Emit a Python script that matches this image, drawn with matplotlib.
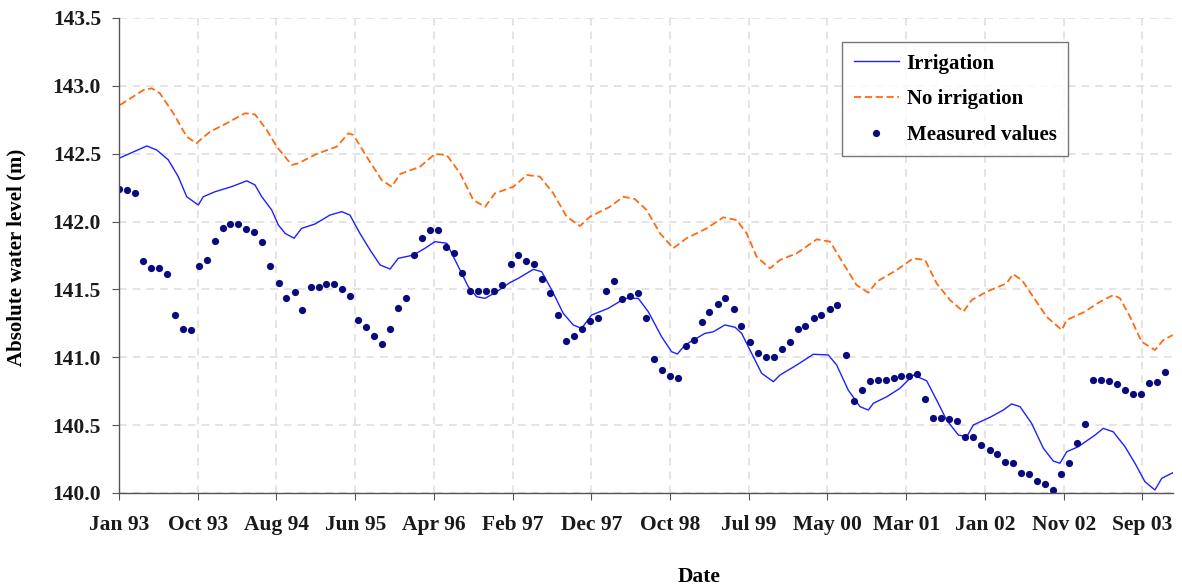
import numpy as np
import pandas as pd
import matplotlib
matplotlib.use("Agg")
import matplotlib.pyplot as plt

# x values are days since 1 Jan 1993
START = pd.Timestamp("1993-01-01")

# simulated level, with irrigation
irr_days = [4, 106, 144, 188, 226, 258, 302, 321, 366, 429, 487, 518, 544, 582, 607, 633, 667, 696,
            747, 804, 849, 880, 918, 957, 995, 1033, 1064, 1122, 1166, 1204, 1249, 1287, 1331, 1363,
            1395, 1439, 1490, 1522, 1579, 1611, 1649, 1693, 1731, 1763, 1801, 1865, 1928, 1979, 2017,
            2068, 2106, 2128, 2157, 2233, 2265, 2309, 2348, 2373, 2411, 2449, 2494, 2519, 2583, 2646,
            2703, 2735, 2779, 2824, 2856, 2875, 2926, 2976, 3027, 3078, 3116, 3154, 3199, 3231, 3256,
            3319, 3370, 3402, 3434, 3478, 3523, 3561, 3586, 3612, 3656, 3720, 3751, 3789, 3834, 3872,
            3910, 3948, 3974, 4016]
irr_level = [142.47, 142.557, 142.527, 142.454, 142.33, 142.183, 142.122, 142.183, 142.22, 142.257,
             142.30, 142.27, 142.183, 142.085, 141.975, 141.913, 141.877, 141.95, 141.982, 142.048,
             142.073, 142.048, 141.913, 141.79, 141.68, 141.65, 141.729, 141.753, 141.803, 141.852,
             141.84, 141.692, 141.52, 141.446, 141.434, 141.483, 141.55, 141.582, 141.648, 141.63,
             141.496, 141.324, 141.238, 141.213, 141.311, 141.361, 141.434, 141.434, 141.336, 141.151,
             141.041, 141.024, 141.09, 141.176, 141.188, 141.238, 141.221, 141.176, 141.029, 140.882,
             140.82, 140.869, 140.943, 141.022, 141.017, 140.943, 140.759, 140.636, 140.611, 140.661,
             140.709, 140.771, 140.869, 140.827, 140.685, 140.538, 140.427, 140.415, 140.501, 140.557,
             140.611, 140.656, 140.636, 140.513, 140.329, 140.235, 140.219, 140.304, 140.341, 140.427,
             140.476, 140.451, 140.341, 140.219, 140.083, 140.022, 140.108, 140.149]

# simulated level, no irrigation
noirr_days = [4, 93, 125, 156, 207, 258, 296, 309, 347, 410, 480, 518, 563, 601, 658, 683, 753, 830,
              874, 893, 944, 1001, 1039, 1071, 1147, 1204, 1249, 1300, 1350, 1395, 1433, 1503, 1554,
              1604, 1655, 1706, 1757, 1795, 1871, 1922, 1966, 2011, 2062, 2112, 2163, 2240, 2303, 2354,
              2392, 2430, 2481, 2519, 2583, 2659, 2710, 2760, 2811, 2856, 2888, 2964, 3027, 3072, 3116,
              3167, 3218, 3250, 3307, 3383, 3407, 3441, 3484, 3535, 3593, 3612, 3675, 3739, 3790, 3815,
              3853, 3897, 3948, 3980, 4016]
noirr_level = [142.859, 142.969, 142.982, 142.945, 142.798, 142.625, 142.577, 142.601, 142.662, 142.724,
               142.798, 142.79, 142.675, 142.552, 142.417, 142.429, 142.498, 142.552, 142.65, 142.638,
               142.478, 142.306, 142.257, 142.35, 142.404, 142.498, 142.49, 142.356, 142.159, 142.109,
               142.208, 142.257, 142.343, 142.331, 142.208, 142.036, 141.967, 142.036, 142.109, 142.183,
               142.166, 142.085, 141.913, 141.803, 141.877, 141.95, 142.031, 142.011, 141.913, 141.741,
               141.655, 141.717, 141.766, 141.869, 141.852, 141.692, 141.532, 141.476, 141.557, 141.643,
               141.729, 141.717, 141.545, 141.422, 141.336, 141.422, 141.483, 141.545, 141.613, 141.569,
               141.446, 141.299, 141.201, 141.275, 141.33, 141.409, 141.459, 141.434, 141.299, 141.115,
               141.053, 141.127, 141.164]

# measured values, monthly Jan 1993 - Dec 2003
measured = [
    142.24, 142.23, 142.21, 141.71, 141.66, 141.66, 141.61, 141.31, 141.21, 141.20, 141.67, 141.72,
    141.86, 141.95, 141.98, 141.98, 141.945, 141.92, 141.85, 141.67, 141.545, 141.44, 141.48, 141.35,
    141.52, 141.52, 141.54, 141.54, 141.50, 141.45, 141.275, 141.22, 141.16, 141.10, 141.21, 141.36,
    141.44, 141.75, 141.88, 141.94, 141.94, 141.81, 141.77, 141.62, 141.49, 141.49, 141.49, 141.49,
    141.53, 141.685, 141.75, 141.71, 141.685, 141.58, 141.47, 141.31, 141.12, 141.16, 141.21, 141.27,
    141.29, 141.49, 141.56, 141.43, 141.45, 141.47, 141.29, 140.985, 140.906, 140.86, 140.85, 141.08,
    141.13, 141.26, 141.33, 141.39, 141.44, 141.355, 141.23, 141.11, 141.03, 141.005, 141.005, 141.06,
    141.11, 141.21, 141.23, 141.29, 141.31, 141.355, 141.385, 141.02, 140.68, 140.76, 140.825, 140.83,
    140.83, 140.85, 140.86, 140.86, 140.875, 140.69, 140.55, 140.55, 140.545, 140.53, 140.415, 140.41,
    140.355, 140.32, 140.285, 140.23, 140.22, 140.15, 140.14, 140.09, 140.065, 140.02, 140.14, 140.22,
    140.37, 140.51, 140.83, 140.83, 140.825, 140.80, 140.76, 140.73, 140.73, 140.81, 140.815, 140.89,
]
measured_dates = pd.date_range("1993-01-01", periods=len(measured), freq="MS")
measured_days = (measured_dates - START).days

tick_days = list(range(0, 4000, 300))
tick_labels = ["Jan 93", "Oct 93", "Aug 94", "Jun 95", "Apr 96", "Feb 97", "Dec 97",
               "Oct 98", "Jul 99", "May 00", "Mar 01", "Jan 02", "Nov 02", "Sep 03"]
y_ticks = np.arange(140.0, 143.51, 0.5)

plt.rcParams["font.family"] = ["Liberation Serif", "DejaVu Serif"]
plt.rcParams["font.weight"] = "bold"

fig = plt.figure(figsize=(11.82, 5.88), dpi=100)
ax = fig.add_axes([0.1007, 0.1616, 0.8917, 0.8078])

ax.plot(irr_days, irr_level, color="#1f1fff", lw=1.0, label="Irrigation")
ax.plot(noirr_days, noirr_level, color="#ff6a10", lw=1.3, dashes=(4, 2), label="No irrigation")
ax.plot(measured_days, measured, ls="none", marker="o", ms=5.2, mec="none",
        color="#0a0a80", label="Measured values")

ax.set_xlim(0, 4017)
ax.set_ylim(140.0, 143.5)
ax.set_xticks(tick_days)
ax.set_xticklabels(tick_labels)
ax.set_yticks(y_ticks)
ax.set_yticklabels([f"{v:.1f}" for v in y_ticks])

ax.grid(True, color="#dcdcdc", ls=(0, (5, 4)), lw=1.1)
ax.set_axisbelow(True)
for s in ["top", "right"]:
    ax.spines[s].set_visible(False)
for s in ["left", "bottom"]:
    ax.spines[s].set_color("#555555")
    ax.spines[s].set_linewidth(1.0)

ax.tick_params(axis="x", length=5, color="#555555", pad=11, labelsize=15.5, labelcolor="#1a1a1a")
ax.tick_params(axis="y", length=5, color="#555555", pad=8, labelsize=15.5, labelcolor="#1a1a1a")

ax.set_xlabel("Date", fontsize=15.5, fontweight="bold")
ax.xaxis.set_label_coords(0.55, -0.177)
ax.xaxis.label.set_va("center")
ax.set_ylabel("Absolute water level (m)", fontsize=15, fontweight="bold")
ax.yaxis.set_label_coords(-0.097, 0.496)
ax.yaxis.label.set_va("center")

leg = ax.legend(loc="upper left", bbox_to_anchor=(0.686, 0.949), fontsize=15, frameon=True,
                fancybox=False, edgecolor="#555555", handlelength=2.2, labelspacing=0.75,
                borderpad=0.55, handletextpad=0.35, borderaxespad=0)
leg.get_frame().set_linewidth(1.0)

fig.savefig("out.png", dpi=100)
